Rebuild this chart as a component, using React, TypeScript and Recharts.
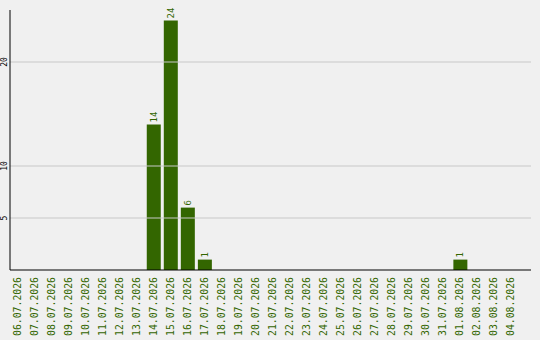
import React from 'react';
import { BarChart, Bar, XAxis, YAxis, ReferenceLine, LabelList } from 'recharts';

const dates = [
    '06.07.2026', '07.07.2026', '08.07.2026', '09.07.2026', '10.07.2026',
    '11.07.2026', '12.07.2026', '13.07.2026', '14.07.2026', '15.07.2026',
    '16.07.2026', '17.07.2026', '18.07.2026', '19.07.2026', '20.07.2026',
    '21.07.2026', '22.07.2026', '23.07.2026', '24.07.2026', '25.07.2026',
    '26.07.2026', '27.07.2026', '28.07.2026', '29.07.2026', '30.07.2026',
    '31.07.2026', '01.08.2026', '02.08.2026', '03.08.2026', '04.08.2026'
];
const counts = [
    0, 0, 0, 0, 0, 0, 0, 0, 14, 24,
    6, 1, 0, 0, 0, 0, 0, 0, 0, 0,
    0, 0, 0, 0, 0, 0, 1, 0, 0, 0
];
const yTicks = [5, 10, 20];

const GREEN = '#336600';
const MONO = '"DejaVu Sans Mono", monospace';

const chartData = dates.map((d, i) => ({ date: d, count: counts[i] }));

function DateTick({ x, y, payload }: any) {
    const ty = y - 1;
    return (
        <text
            x={x}
            y={ty}
            transform={`rotate(-90, ${x}, ${ty})`}
            textAnchor="end"
            dominantBaseline="central"
            fill={GREEN}
            fontFamily={MONO}
            fontSize={9.8}
        >
            {payload.value}
        </text>
    );
}

function ValueTick({ y, payload }: any) {
    return (
        <text
            x={7}
            y={y}
            transform={`rotate(-90, 7, ${y})`}
            textAnchor="middle"
            fill="#000"
            fontFamily={MONO}
            fontSize={8}
        >
            {payload.value}
        </text>
    );
}

function BarValue({ x, y, width, value }: any) {
    if (!value) return null;
    const cx = x + width / 2;
    const cy = y - 2;
    return (
        <text
            x={cx}
            y={cy}
            transform={`rotate(-90, ${cx}, ${cy})`}
            textAnchor="start"
            dominantBaseline="central"
            fill={GREEN}
            fontFamily={MONO}
            fontSize={9}
        >
            {value}
        </text>
    );
}

export default function App() {
    return (
        <div style={{ position: 'fixed', left: 0, top: 0, width: 540, height: 340, background: '#f0f0f0' }}>
            <BarChart
                width={540}
                height={340}
                data={chartData}
                margin={{ top: 10, right: 9, bottom: 0, left: 0 }}
            >
                {yTicks.map((t) => (
                    <ReferenceLine key={t} y={t} stroke="#c8c8c8" strokeWidth={1} />
                ))}
                <XAxis
                    dataKey="date"
                    interval={0}
                    height={70}
                    padding={{ left: -1.5, right: 11.5 }}
                    tickLine={false}
                    axisLine={{ stroke: '#000' }}
                    tick={<DateTick />}
                />
                <YAxis
                    width={10}
                    domain={[0, 25]}
                    ticks={yTicks}
                    tickLine={false}
                    axisLine={{ stroke: '#000' }}
                    tick={<ValueTick />}
                />
                <Bar dataKey="count" fill={GREEN} barSize={14} isAnimationActive={false}>
                    <LabelList dataKey="count" content={<BarValue />} />
                </Bar>
            </BarChart>
        </div>
    );
}
